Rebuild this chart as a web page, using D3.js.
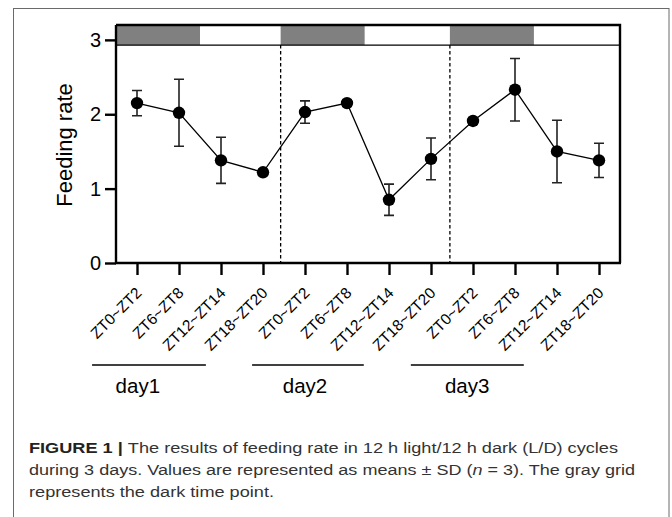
<!DOCTYPE html>
<html>
<head>
<meta charset="utf-8">
<script src="https://cdn.jsdelivr.net/npm/d3@7"></script>
<style>
  body { margin: 0; background: #fff; }
  text { font-family: "Liberation Sans", Arial, sans-serif; }
</style>
</head>
<body>
<div id="chart"></div>
<script>
'use strict';

var timeLabels = ['ZT0~ZT2', 'ZT6~ZT8', 'ZT12~ZT14', 'ZT18~ZT20',
                  'ZT0~ZT2', 'ZT6~ZT8', 'ZT12~ZT14', 'ZT18~ZT20',
                  'ZT0~ZT2', 'ZT6~ZT8', 'ZT12~ZT14', 'ZT18~ZT20'];
var feedingMean = [2.15, 2.02, 1.38, 1.22, 2.03, 2.15, 0.85, 1.40, 1.91, 2.33, 1.50, 1.38];
var feedingSD   = [0.17, 0.45, 0.31, 0.04, 0.15, 0.04, 0.21, 0.28, 0.04, 0.42, 0.42, 0.23];
var yTicks = [0, 1, 2, 3];
var dayNames = ['day1', 'day2', 'day3'];
// dark periods and day boundaries, in sample-index units
var darkPhases = [[-0.5, 1.5], [3.42, 5.42], [7.45, 9.45]];
var dayBreaks = [3.42, 7.45];

var W = 672, H = 517;
var plotL = 116, plotR = 620, plotT = 25, plotB = 263;

var svg = d3.select('#chart').append('svg')
  .attr('width', W).attr('height', H);

// outer figure frame
svg.append('rect')
  .attr('x', 13.5).attr('y', 8.5)
  .attr('width', 655.5).attr('height', 530)
  .attr('fill', 'none').attr('stroke', '#6a6a6a').attr('stroke-width', 1);

var idx = d3.range(timeLabels.length);
var x = d3.scalePoint().domain(idx).range([plotL, plotR]).padding(0.5);
var xl = d3.scaleLinear().domain([-0.5, timeLabels.length - 0.5]).range([plotL, plotR]);
var y = d3.scaleLinear().domain([0, 3.2]).range([plotB, plotT]);
var bandLow = 2.93;

// light/dark band
svg.selectAll('rect.dark').data(darkPhases).enter().append('rect')
  .attr('class', 'dark')
  .attr('x', function(d) { return xl(d[0]); })
  .attr('y', y(3.2))
  .attr('width', function(d) { return xl(d[1]) - xl(d[0]); })
  .attr('height', y(bandLow) - y(3.2))
  .attr('fill', '#808080');

svg.append('line')
  .attr('x1', plotL).attr('x2', plotR)
  .attr('y1', y(bandLow)).attr('y2', y(bandLow))
  .attr('stroke', '#000').attr('stroke-width', 1.3);

// day separators
svg.selectAll('line.sep').data(dayBreaks).enter().append('line')
  .attr('class', 'sep')
  .attr('x1', function(d) { return xl(d); })
  .attr('x2', function(d) { return xl(d); })
  .attr('y1', y(bandLow)).attr('y2', plotB)
  .attr('stroke', '#000').attr('stroke-width', 1.3)
  .attr('stroke-dasharray', '3.5,2.5');

// top and right frame of plot
svg.append('path')
  .attr('d', 'M' + plotL + ',' + plotT + 'H' + plotR + 'V' + plotB)
  .attr('fill', 'none').attr('stroke', '#000').attr('stroke-width', 2.4);

// axes
var yAxis = svg.append('g')
  .attr('transform', 'translate(' + plotL + ',0)')
  .call(d3.axisLeft(y).tickValues(yTicks).tickSize(11).tickPadding(4).tickFormat(d3.format('d')));
yAxis.select('.domain').attr('d', 'M0,' + plotT + 'V' + plotB);
yAxis.selectAll('path, line').attr('stroke', '#000').attr('stroke-width', 2.4);
yAxis.selectAll('text')
  .attr('font-size', 20).attr('fill', '#000')
  .style('font-family', '"Liberation Sans", Arial, sans-serif');

var xAxis = svg.append('g')
  .attr('transform', 'translate(0,' + plotB + ')')
  .call(d3.axisBottom(x).tickSize(12).tickFormat(function(i) { return timeLabels[i]; }));
xAxis.select('.domain').attr('d', 'M' + (plotL - 1) + ',0H' + (plotR + 1));
xAxis.selectAll('path, line').attr('stroke', '#000').attr('stroke-width', 2.4);
xAxis.selectAll('text')
  .attr('font-size', 15.5).attr('fill', '#000')
  .attr('text-anchor', 'end')
  .attr('x', 0).attr('y', 0).attr('dy', 0)
  .attr('transform', 'translate(5,31) rotate(-45)')
  .style('font-family', '"Liberation Sans", Arial, sans-serif');

svg.append('text')
  .attr('transform', 'translate(72,145) rotate(-90)')
  .attr('text-anchor', 'middle')
  .attr('font-size', 22)
  .text('Feeding rate');

// error bars
var eb = svg.append('g');
idx.forEach(function(i) {
  var cx = x(i), hi = y(feedingMean[i] + feedingSD[i]), lo = y(feedingMean[i] - feedingSD[i]);
  eb.append('path')
    .attr('d', 'M' + cx + ',' + hi + 'V' + lo +
               'M' + (cx - 5) + ',' + hi + 'H' + (cx + 5) +
               'M' + (cx - 5) + ',' + lo + 'H' + (cx + 5))
    .attr('fill', 'none').attr('stroke', '#222').attr('stroke-width', 1.6);
});

// mean line and points
var line = d3.line()
  .x(function(d, i) { return x(i); })
  .y(function(d) { return y(d); });

svg.append('path')
  .datum(feedingMean)
  .attr('d', line)
  .attr('fill', 'none').attr('stroke', '#000').attr('stroke-width', 1.3);

svg.selectAll('circle.pt').data(feedingMean).enter().append('circle')
  .attr('class', 'pt')
  .attr('cx', function(d, i) { return x(i); })
  .attr('cy', function(d) { return y(d); })
  .attr('r', 6.2)
  .attr('fill', '#000');

// day grouping
var daySpans = [[-1.07, 1.64], [2.74, 5.4], [6.52, 9.21]];
var dayCenters = [0.02, 4.0, 7.86];
svg.selectAll('line.day').data(daySpans).enter().append('line')
  .attr('class', 'day')
  .attr('x1', function(d) { return x(0) + d[0] * x.step(); })
  .attr('x2', function(d) { return x(0) + d[1] * x.step(); })
  .attr('y1', 365).attr('y2', 365)
  .attr('stroke', '#000').attr('stroke-width', 1.3);

svg.selectAll('text.day').data(dayNames).enter().append('text')
  .attr('class', 'day')
  .attr('x', function(d, i) { return x(0) + dayCenters[i] * x.step(); })
  .attr('y', 393)
  .attr('text-anchor', 'middle')
  .attr('font-size', 20.5)
  .text(function(d) { return d; });

// caption
var cap = svg.append('g').attr('fill', '#333')
  .style('font-family', '"Liberation Sans Narrow", "Liberation Sans", Arial, sans-serif');

var c1 = cap.append('text').attr('x', 29).attr('y', 453).attr('font-size', 15.5)
  .attr('textLength', 589).attr('lengthAdjust', 'spacingAndGlyphs');
c1.append('tspan').attr('font-weight', 'bold').attr('fill', '#222').text('FIGURE 1 | ');
c1.append('tspan').text('The results of feeding rate in 12 h light/12 h dark (L/D) cycles');

var c2 = cap.append('text').attr('x', 29).attr('y', 475).attr('font-size', 15.5)
  .attr('textLength', 606).attr('lengthAdjust', 'spacingAndGlyphs');
c2.append('tspan').text('during 3 days. Values are represented as means \u00b1 SD (');
c2.append('tspan').attr('font-style', 'italic').text('n');
c2.append('tspan').text(' = 3). The gray grid');

cap.append('text').attr('x', 29).attr('y', 497).attr('font-size', 15.5)
  .attr('textLength', 245).attr('lengthAdjust', 'spacingAndGlyphs')
  .text('represents the dark time point.');
</script>
</body>
</html>
